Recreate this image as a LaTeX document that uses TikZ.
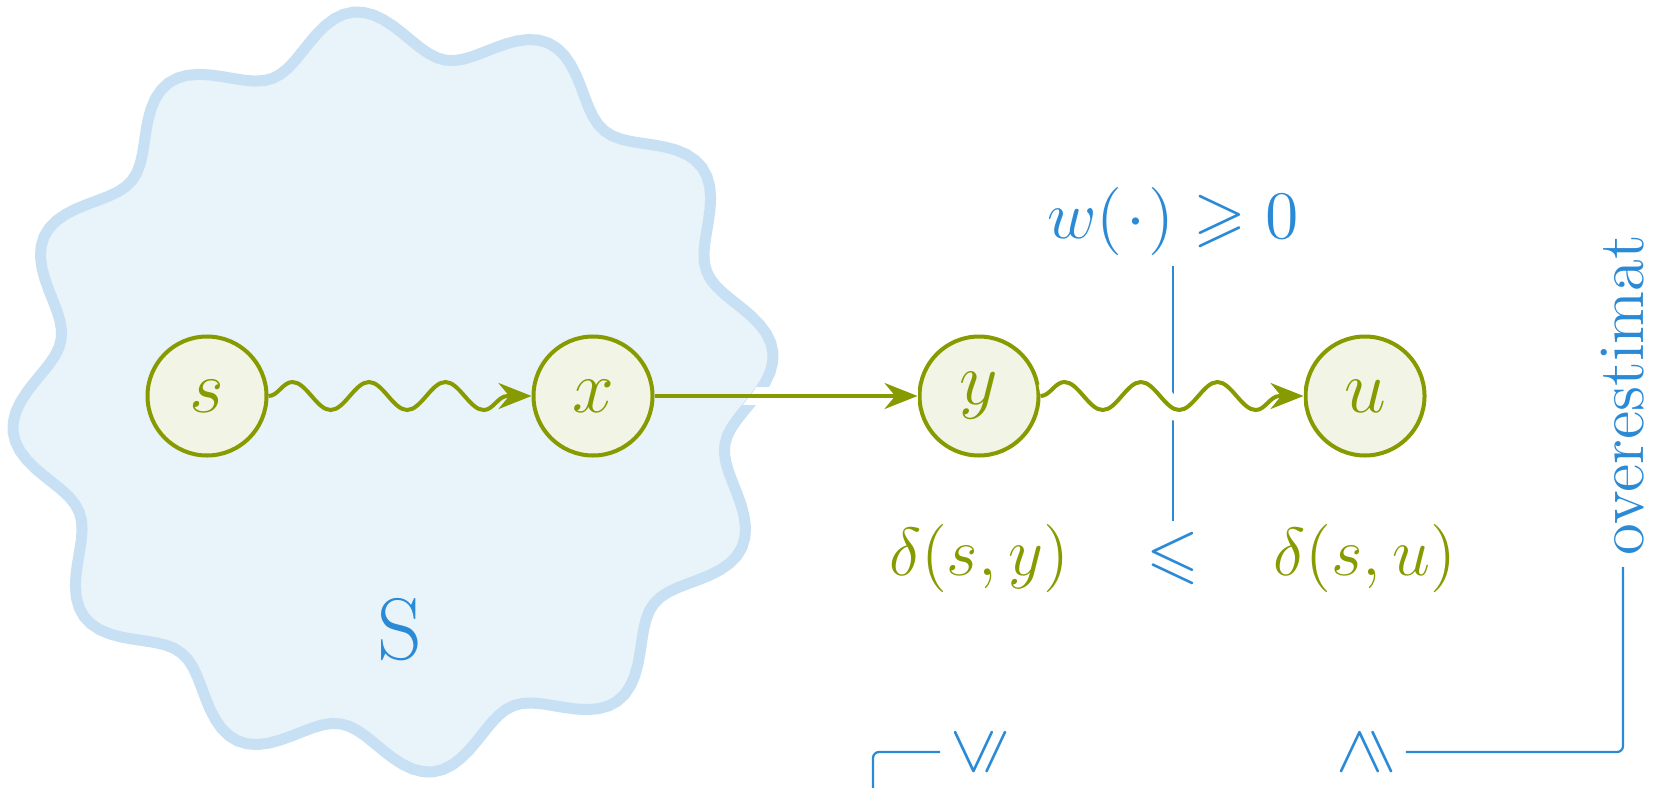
\documentclass[tikz,border=0pt]{standalone}
\usepackage{fix-cm}
\usepackage{amssymb}
\DeclareFontFamily{U}{msa}{}
\DeclareFontShape{U}{msa}{m}{n}{<->msam10}{}
\usepackage{xcolor}
\usetikzlibrary{positioning,arrows.meta,decorations.pathmorphing}
\definecolor{pathOlive}{HTML}{879A00}
\definecolor{pathNode}{HTML}{F2F5E6}
\definecolor{setBlue}{HTML}{2B8AD6}
\definecolor{setFill}{HTML}{E8F3FA}
\definecolor{setLine}{HTML}{C8E0F3}

\begin{document}
\begin{tikzpicture}[x=0.2pt,y=-0.2pt,node distance=77.2pt,on grid,
  vert/.style={circle,draw=pathOlive,fill=pathNode,line width=0.8pt,minimum size=23.8pt,inner sep=0pt,text=pathOlive,font=\fontsize{15}{18}\selectfont},
  hop/.style={draw=pathOlive,line width=0.8pt,-{Stealth[length=6.6pt,width=5.2pt]}},
  wave/.style={decorate,decoration={snake,amplitude=2.8pt,segment length=15.3pt,post length=3pt}},
  lbl/.style={font=\fontsize{13.6}{16}\selectfont,inner sep=2pt},
  guide/.style={draw=setBlue,line width=0.45pt,rounded corners=1.2pt}]
  \useasboundingbox (0,0) rectangle (1653,787);
  % the set S
  \draw[setLine,line width=2.2pt,fill=setFill] plot[domain=0:360,samples=241,variable=\t]
    ({393+(359+23*cos(12*(\t-6)))*cos(\t)},{392-(359+23*cos(12*(\t-6)))*sin(\t)}) -- cycle;
  \node[text=setBlue,font=\fontsize{17.5}{20}\selectfont] (setS) at (400,630) {S};

  \node[vert] (s) at (207,396) {$s$};
  \node[vert,right=of s] (x) {$x$};
  \node[vert,right=of x] (y) {$y$};
  \node[vert,right=of y] (u) {$u$};

  % labels
  \node[lbl,text=setBlue] (wrow) at (1173,221) {$w(\mkern1mu\cdot\mkern1mu)\geqslant 0$};
  \node[lbl,text=pathOlive,anchor=base] (dsy) at (979,575) {$\delta(s,y)$};
  \node[lbl,text=setBlue,anchor=base] (leq) at (1173,575) {$\leqslant$};
  \node[lbl,text=pathOlive,anchor=base] (dsu) at (1365,575) {$\delta(s,u)$};
  \node[lbl,text=setBlue,rotate=90,inner sep=2.5pt] (lqr) at (980,752) {$\leqslant$};
  \node[lbl,text=setBlue,rotate=90,inner sep=2.5pt] (gqr) at (1366,752) {$\geqslant$};
  \node[text=setBlue,rotate=90,anchor=west,inner sep=2.2pt,font=\fontsize{13}{16}\selectfont] (over) at (1623,567) {overestimat};
  \coordinate (cut) at (873,800);

  \draw[guide] (wrow) -- (leq);
  \draw[guide] (cut) |- (lqr.north);
  \draw[guide] (gqr.south) -| (over.west);

  % gap in the border of S
  \begin{scope}[even odd rule]
    \clip (0,0) rectangle (1653,787) plot[domain=0:360,samples=241,variable=\t]
      ({393+(353+23*cos(12*(\t-6)))*cos(\t)},{392-(353+23*cos(12*(\t-6)))*sin(\t)}) -- cycle;
    \path[draw=white,line width=3.6pt] (x) -- (y);
  \end{scope}

  \draw[hop,wave] (s) -- (x);
  \draw[hop] (x) -- (y);
  \draw[white,line width=4.6pt,wave] (y) -- (u);
  \draw[hop,wave] (y) -- (u);
\end{tikzpicture}
\end{document}
